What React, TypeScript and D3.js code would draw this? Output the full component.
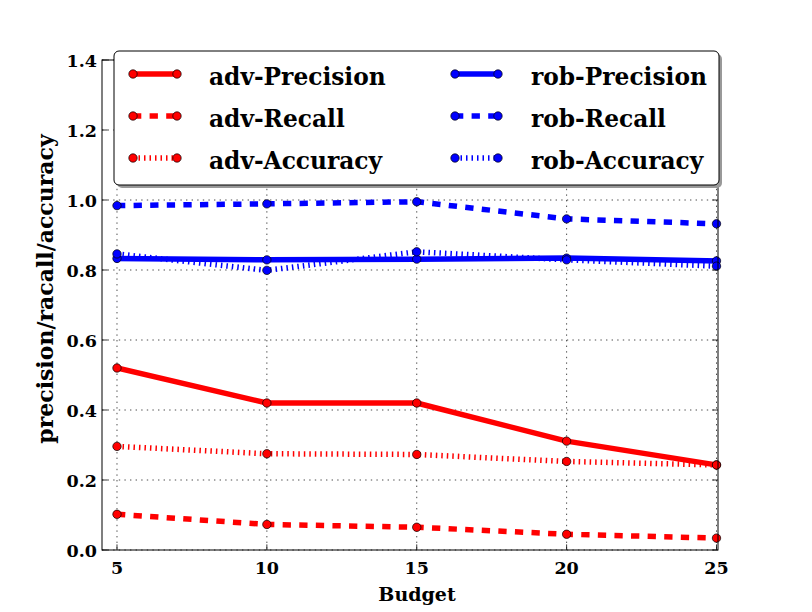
import React from "react";
import * as d3 from "d3";

const budgets = [5, 10, 15, 20, 25];
const advPrecision = [0.52, 0.42, 0.42, 0.311, 0.243];
const advRecall = [0.102, 0.073, 0.065, 0.045, 0.034];
const advAccuracy = [0.296, 0.275, 0.273, 0.253, 0.243];
const robPrecision = [0.833, 0.829, 0.831, 0.834, 0.826];
const robRecall = [0.984, 0.989, 0.995, 0.946, 0.932];
const robAccuracy = [0.846, 0.799, 0.852, 0.829, 0.811];
const yTicks = [0, 0.2, 0.4, 0.6, 0.8, 1.0, 1.2, 1.4];

const seriesNames = ["adv-Precision", "adv-Recall", "adv-Accuracy", "rob-Precision", "rob-Recall", "rob-Accuracy"];
const seriesValues = [advPrecision, advRecall, advAccuracy, robPrecision, robRecall, robAccuracy];
const seriesColors = ["#ff0000", "#ff0000", "#ff0000", "#0000ff", "#0000ff", "#0000ff"];
const seriesStyles = ["solid", "dashed", "dotted", "solid", "dashed", "dotted"];

const W = 812;
const H = 612;
const left = 102;
const right = 718;
const top = 60;
const bottom = 550;
const FONT = "'DejaVu Serif', serif";

const dashFor = (s: string) => (s === "dashed" ? "8.3,8.3" : s === "dotted" ? "1.5,4" : undefined);
const capFor = (s: string) => (s === "solid" ? "square" : "butt");

export default function App() {
  const x = d3.scaleLinear().domain([4.5, 25.05]).range([left, right]);
  const y = d3.scaleLinear().domain([0, 1.4]).range([bottom, top]);
  const line = d3
    .line<number>()
    .x((_, i) => x(budgets[i]))
    .y((d) => y(d));

  const legendRows = [74, 116, 158];
  const legendCols = [
    { x0: 133, x1: 177, tx: 209 },
    { x0: 455, x1: 498, tx: 531 },
  ];

  return (
    <svg
      width={W}
      height={H}
      style={{ position: "absolute", left: 0, top: 0, background: "#fff" }}
      fontFamily={FONT}
    >
      <rect x={0} y={0} width={W} height={H} fill="#fff" />
      {/* grid */}
      {budgets.map((b) => (
        <line key={"gx" + b} x1={x(b)} x2={x(b)} y1={top} y2={bottom} stroke="#000" strokeWidth={0.7} strokeDasharray="1.4,4.2" />
      ))}
      {yTicks.map((t) => (
        <line key={"gy" + t} x1={left} x2={right} y1={y(t)} y2={y(t)} stroke="#000" strokeWidth={0.7} strokeDasharray="1.4,4.2" />
      ))}
      {/* series */}
      {seriesValues.map((vals, si) => (
        <g key={seriesNames[si]}>
          <path
            d={line(vals) || ""}
            fill="none"
            stroke={seriesColors[si]}
            strokeWidth={5.5}
            strokeDasharray={dashFor(seriesStyles[si])}
            strokeLinecap={capFor(seriesStyles[si]) as any}
            strokeLinejoin="round"
          />
          {vals.map((v, i) => (
            <circle key={i} cx={x(budgets[i])} cy={y(v)} r={4.2} fill={seriesColors[si]} stroke="#000" strokeWidth={0.7} />
          ))}
        </g>
      ))}
      {/* ticks */}
      {budgets.map((b) => (
        <g key={"tx" + b}>
          <line x1={x(b)} x2={x(b)} y1={bottom} y2={bottom - 5.6} stroke="#000" strokeWidth={0.8} />
          <line x1={x(b)} x2={x(b)} y1={top} y2={top + 5.6} stroke="#000" strokeWidth={0.8} />
          <text x={x(b)} y={574} textAnchor="middle" fontSize={17.5} fontWeight="bold" fill="#000">
            {b}
          </text>
        </g>
      ))}
      {yTicks.map((t) => (
        <g key={"ty" + t}>
          <line x1={left} x2={left + 5.6} y1={y(t)} y2={y(t)} stroke="#000" strokeWidth={0.8} />
          <line x1={right} x2={right - 5.6} y1={y(t)} y2={y(t)} stroke="#000" strokeWidth={0.8} />
          <text x={97} y={y(t) + 6.5} textAnchor="end" fontSize={17.5} fontWeight="bold" fill="#000">
            {t.toFixed(1)}
          </text>
        </g>
      ))}
      {/* axes frame */}
      <rect x={left} y={top} width={right - left} height={bottom - top} fill="none" stroke="#000" strokeWidth={1} />
      {/* legend */}
      <rect x={117} y={54} width={605} height={134} rx={5} fill="#999" />
      <rect x={114} y={51} width={605} height={134} rx={5} fill="#fff" stroke="#000" strokeWidth={1} />
      {seriesNames.map((name, si) => {
        const col = legendCols[Math.floor(si / 3)];
        const ry = legendRows[si % 3];
        return (
          <g key={"lg" + si}>
            <line
              x1={col.x0}
              x2={col.x1}
              y1={ry}
              y2={ry}
              stroke={seriesColors[si]}
              strokeWidth={5.5}
              strokeDasharray={dashFor(seriesStyles[si])}
              strokeLinecap="butt"
            />
            <circle cx={col.x0} cy={ry} r={4.2} fill={seriesColors[si]} stroke="#000" strokeWidth={0.7} />
            <circle cx={col.x1} cy={ry} r={4.2} fill={seriesColors[si]} stroke="#000" strokeWidth={0.7} />
            <text x={col.tx} y={ry + 10.8} fontSize={23.3} fontWeight="bold" fill="#000">
              {name}
            </text>
          </g>
        );
      })}
      {/* axis labels */}
      <text x={417} y={601} textAnchor="middle" fontSize={19} fontWeight="bold" fill="#000">
        Budget
      </text>
      <text
        transform={`translate(53,${289}) rotate(-90)`}
        textAnchor="middle"
        fontSize={22}
        fontWeight="bold"
        fill="#000"
      >
        precision/racall/accuracy
      </text>
    </svg>
  );
}
